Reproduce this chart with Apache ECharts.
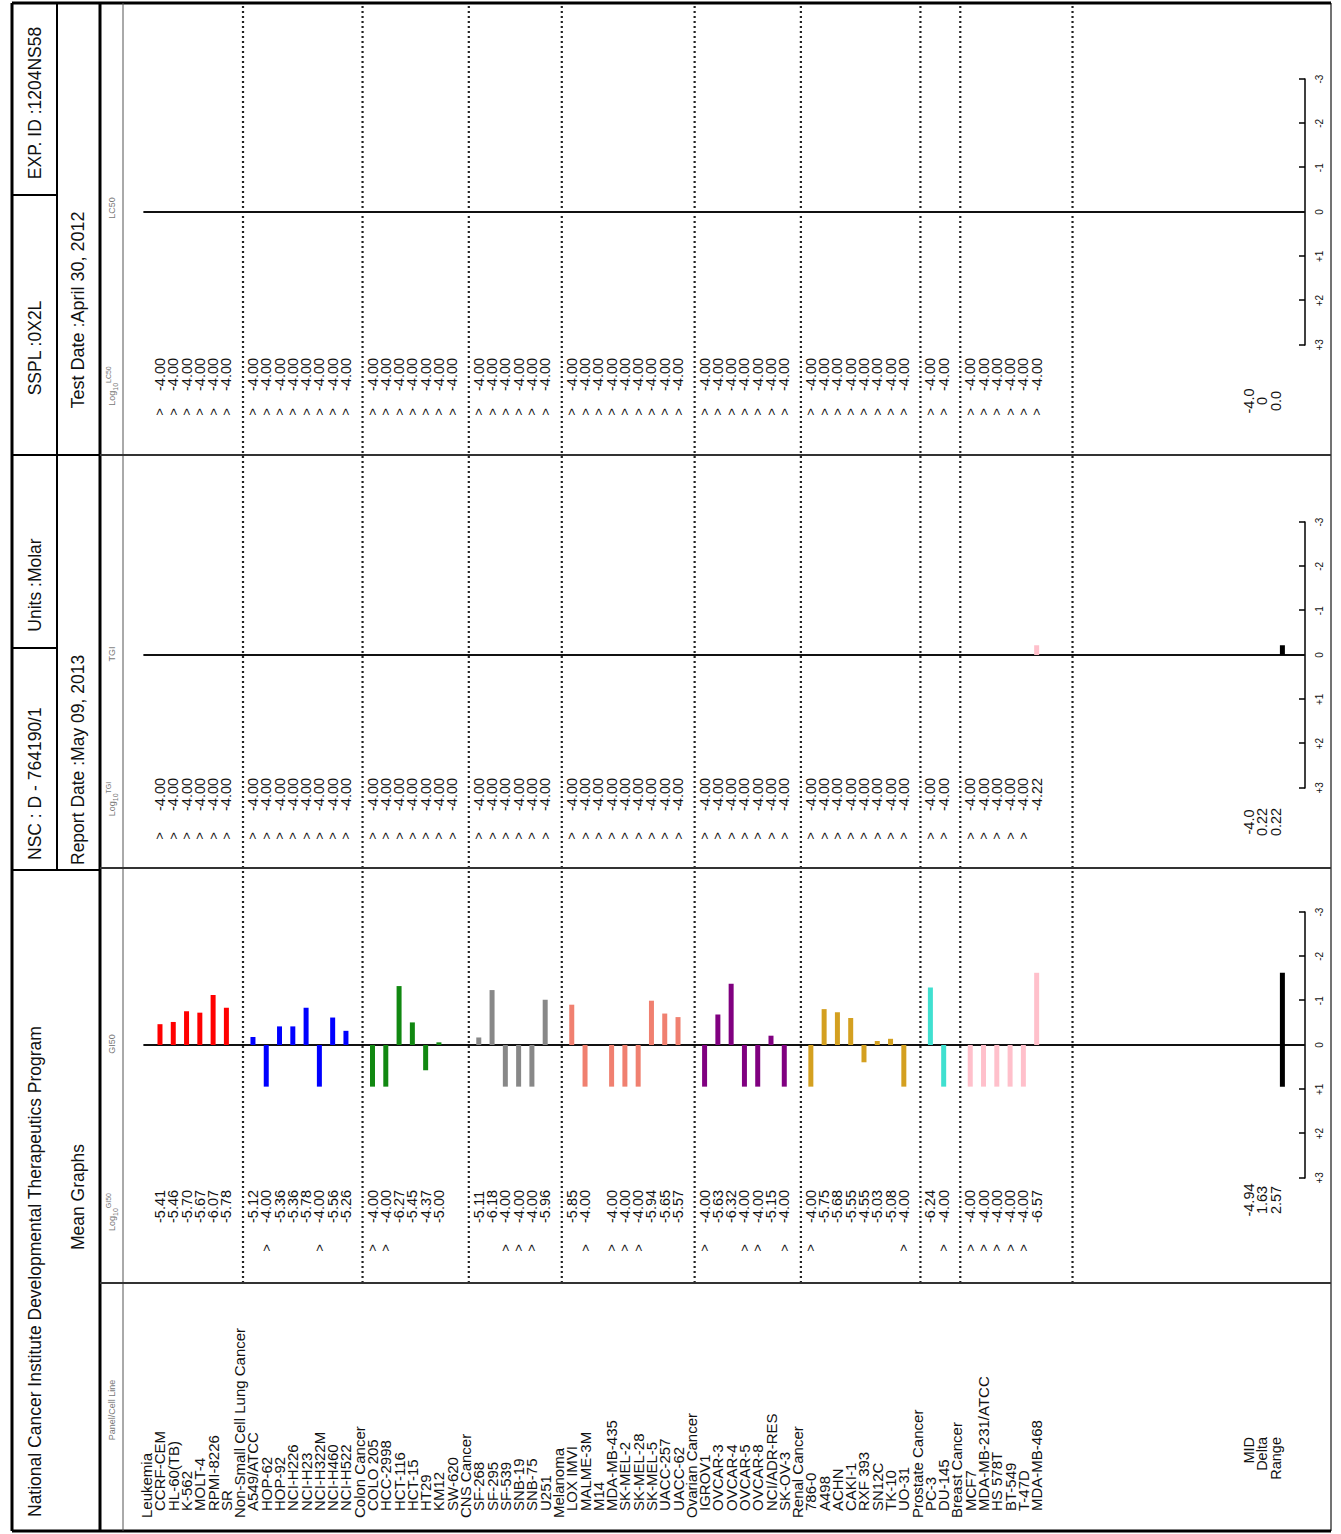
<!DOCTYPE html>
<html>
<head>
<meta charset="utf-8">
<script src="https://cdn.jsdelivr.net/npm/echarts@6/dist/echarts.min.js"></script>
<style>
  html, body { margin: 0; padding: 0; background: #fff; overflow: hidden; }
  #wrap { position: absolute; left: 0; top: 0; width: 1341px; height: 1534px; overflow: hidden; background: #fff; }
  /* the report is laid out in portrait and turned a quarter turn counter-clockwise */
  #chart { position: absolute; left: 0; top: 0; width: 1534px; height: 1341px;
           transform-origin: 0 0; transform: translate(0, 1534px) rotate(-90deg); }
</style>
</head>
<body>
<div id="wrap"><div id="chart"></div></div>
<script>
// ---------------- data ----------------
const PANELS = ['Leukemia', 'Non-Small Cell Lung Cancer', 'Colon Cancer', 'CNS Cancer', 'Melanoma',
  'Ovarian Cancer', 'Renal Cancer', 'Prostate Cancer', 'Breast Cancer'];
const PANEL_COLORS = ['#ff0000', '#0000ff', '#118811', '#888888', '#f08070', '#800080', '#d4a020', '#40e0d0', '#ffc0cb'];
const CELL_LINES = [
  ['CCRF-CEM', 'HL-60(TB)', 'K-562', 'MOLT-4', 'RPMI-8226', 'SR'],
  ['A549/ATCC', 'HOP-62', 'HOP-92', 'NCI-H226', 'NCI-H23', 'NCI-H322M', 'NCI-H460', 'NCI-H522'],
  ['COLO 205', 'HCC-2998', 'HCT-116', 'HCT-15', 'HT29', 'KM12', 'SW-620'],
  ['SF-268', 'SF-295', 'SF-539', 'SNB-19', 'SNB-75', 'U251'],
  ['LOX IMVI', 'MALME-3M', 'M14', 'MDA-MB-435', 'SK-MEL-2', 'SK-MEL-28', 'SK-MEL-5', 'UACC-257', 'UACC-62'],
  ['IGROV1', 'OVCAR-3', 'OVCAR-4', 'OVCAR-5', 'OVCAR-8', 'NCI/ADR-RES', 'SK-OV-3'],
  ['786-0', 'A498', 'ACHN', 'CAKI-1', 'RXF 393', 'SN12C', 'TK-10', 'UO-31'],
  ['PC-3', 'DU-145'],
  ['MCF7', 'MDA-MB-231/ATCC', 'HS 578T', 'BT-549', 'T-47D', 'MDA-MB-468']
];
// log10 molar values, one per cell line in the order above (null = not reported)
const GI50 = [
  -5.41, -5.46, -5.70, -5.67, -6.07, -5.78,
  -5.12, -4.00, -5.36, -5.36, -5.78, -4.00, -5.56, -5.26,
  -4.00, -4.00, -6.27, -5.45, -4.37, -5.00, null,
  -5.11, -6.18, -4.00, -4.00, -4.00, -5.96,
  -5.85, -4.00, null, -4.00, -4.00, -4.00, -5.94, -5.65, -5.57,
  -4.00, -5.63, -6.32, -4.00, -4.00, -5.15, -4.00,
  -4.00, -5.75, -5.68, -5.55, -4.55, -5.03, -5.08, -4.00,
  -6.24, -4.00,
  -4.00, -4.00, -4.00, -4.00, -4.00, -6.57
];
const TGI = [
  -4.00, -4.00, -4.00, -4.00, -4.00, -4.00,
  -4.00, -4.00, -4.00, -4.00, -4.00, -4.00, -4.00, -4.00,
  -4.00, -4.00, -4.00, -4.00, -4.00, -4.00, -4.00,
  -4.00, -4.00, -4.00, -4.00, -4.00, -4.00,
  -4.00, -4.00, -4.00, -4.00, -4.00, -4.00, -4.00, -4.00, -4.00,
  -4.00, -4.00, -4.00, -4.00, -4.00, -4.00, -4.00,
  -4.00, -4.00, -4.00, -4.00, -4.00, -4.00, -4.00, -4.00,
  -4.00, -4.00,
  -4.00, -4.00, -4.00, -4.00, -4.00, -4.22
];
const LC50 = [
  -4.00, -4.00, -4.00, -4.00, -4.00, -4.00,
  -4.00, -4.00, -4.00, -4.00, -4.00, -4.00, -4.00, -4.00,
  -4.00, -4.00, -4.00, -4.00, -4.00, -4.00, -4.00,
  -4.00, -4.00, -4.00, -4.00, -4.00, -4.00,
  -4.00, -4.00, -4.00, -4.00, -4.00, -4.00, -4.00, -4.00, -4.00,
  -4.00, -4.00, -4.00, -4.00, -4.00, -4.00, -4.00,
  -4.00, -4.00, -4.00, -4.00, -4.00, -4.00, -4.00, -4.00,
  -4.00, -4.00,
  -4.00, -4.00, -4.00, -4.00, -4.00, -4.00
];
// highest tested concentration: values at this ceiling are reported as ">"
const TOP_LOG_CONC = -4.00;
const SUMMARY_LABELS = ['MID', 'Delta', 'Range'];
const GI50_SUMMARY = ['-4.94', '1.63', '2.57'];
const TGI_SUMMARY = ['-4.0', '0.22', '0.22'];
const LC50_SUMMARY = ['-4.0', '0', '0.0'];
const SCALE_TICKS = [-3, -2, -1, 0, 1, 2, 3];
const COLUMN_HEADS = [
  { pre: 'Panel/Cell Line', u: 124 },
  { pre: 'Log', sub: '10', sup: 'GI50', u: 322 },
  { pre: 'GI50', u: 490 },
  { pre: 'Log', sub: '10', sup: 'TGI', u: 735 },
  { pre: 'TGI', u: 880 },
  { pre: 'Log', sub: '10', sup: 'LC50', u: 1148 },
  { pre: 'LC50', u: 1326 }
];

// ---------------- layout (portrait page, px) ----------------
const W = 1534, H = 1341;
const FONT = "'Liberation Sans', Arial, Helvetica, sans-serif";
const ROW0 = 146.7, PITCH = 13.283;          // centre of the first row, row pitch
const PLOT_TOP = 123, AXIS_V = 1305;          // top of plotting strip, scale axis line
const UNIT = 44.3;                            // px per log unit
const ZERO_U = [489, 879, 1322];              // zero line of GI50 / TGI / LC50
const QUAL_U = [286, 698, 1122];              // ">" column
const VALUE_U = [311, 723, 1143];             // value column (left edge)
const SUMMARY_U = [334, 712, 1133];           // MID/Delta/Range column (centre)
const PANEL_EDGES = [251, 666, 1079];
const BAR_W = 5;
const LABEL_PX = 15, VALUE_PX = 14.5;
const yMin = (PLOT_TOP - ROW0) / PITCH;
const yMax = (AXIS_V - ROW0) / PITCH;

// rows: a panel heading followed by its cell lines
const labelRows = [], cellRows = [], cellColor = [], headingRows = [];
let r = 0;
PANELS.forEach((p, pi) => {
  labelRows.push({ name: p, row: r, heading: true });
  headingRows.push(r); r++;
  CELL_LINES[pi].forEach(c => {
    labelRows.push({ name: c, row: r, heading: false });
    cellRows.push(r); cellColor.push(PANEL_COLORS[pi]); r++;
  });
});
const LAST_ROW = r - 1;
const SEP_ROWS = headingRows.slice(1).map(h => h + 0.25).concat([LAST_ROW + 2.7]);
const SUMMARY_ROW = LAST_ROW + 16;
const SUMMARY_BAR_ROW = LAST_ROW + 18.5;
const ZERO_FROM_ROW = -0.25;

// ---------------- series builders ----------------
const txt = (size) => `${size}px ${FONT}`;

function labelSeries() {
  const items = labelRows.concat(SUMMARY_LABELS.map((s, i) => ({ name: s, row: SUMMARY_ROW + i, summary: true })));
  return {
    type: 'custom', xAxisIndex: 0, yAxisIndex: 0, silent: true, animation: false,
    data: items.map(o => [0, o.row]),
    renderItem: (params, api) => {
      const o = items[params.dataIndex];
      const p = api.coord([0, api.value(1)]);
      let x = p[0] + (o.heading ? 13 : 20), align = 'left', size = LABEL_PX;
      if (o.summary) { x = p[0] + 94; align = 'right'; size = VALUE_PX; }
      return { type: 'text', x, y: p[1],
        style: { text: o.name, font: txt(size), fill: '#111', align, verticalAlign: 'middle' } };
    }
  };
}

function valueTextSeries(k, values, summary) {
  const items = [];
  values.forEach((v, i) => { if (v !== null) items.push({ row: cellRows[i], v }); });
  summary.forEach((s, i) => items.push({ row: SUMMARY_ROW + i, s }));
  return {
    type: 'custom', xAxisIndex: k + 1, yAxisIndex: k + 1, silent: true, animation: false,
    data: items.map(o => [0, o.row]),
    renderItem: (params, api) => {
      const o = items[params.dataIndex];
      const y = api.coord([0, api.value(1)])[1];
      if (o.s !== undefined) {
        return { type: 'text', x: SUMMARY_U[k], y,
          style: { text: o.s, font: txt(VALUE_PX), fill: '#111', align: 'center', verticalAlign: 'middle' } };
      }
      const children = [{ type: 'text', x: VALUE_U[k], y,
        style: { text: o.v.toFixed(2), font: txt(VALUE_PX), fill: '#111', align: 'left', verticalAlign: 'middle' } }];
      if (o.v === TOP_LOG_CONC) {
        children.push({ type: 'text', x: QUAL_U[k], y,
          style: { text: '>', font: txt(13), fill: '#111', align: 'center', verticalAlign: 'middle' } });
      }
      return { type: 'group', children };
    }
  };
}

function barSeries(k, values, summary) {
  const mid = parseFloat(summary[0]);
  const items = [];
  values.forEach((v, i) => { if (v !== null) items.push({ row: cellRows[i], d: v - mid, color: cellColor[i] }); });
  return {
    type: 'custom', xAxisIndex: k + 1, yAxisIndex: k + 1, silent: true, animation: false, z: 3,
    data: items.map(o => [o.d, o.row]),
    renderItem: (params, api) => {
      const o = items[params.dataIndex];
      const p0 = api.coord([0, api.value(1)]);
      const p1 = api.coord([api.value(0), api.value(1)]);
      const w = Math.abs(p1[0] - p0[0]);
      if (w < 0.5) return null;
      return { type: 'rect',
        shape: { x: Math.min(p0[0], p1[0]), y: p0[1] - BAR_W / 2, width: w, height: BAR_W },
        style: { fill: o.color } };
    }
  };
}

function summaryBarSeries(k, summary) {
  const delta = parseFloat(summary[1]), range = parseFloat(summary[2]);
  return {
    type: 'custom', xAxisIndex: k + 1, yAxisIndex: k + 1, silent: true, animation: false, z: 4,
    data: [[-delta, range - delta, SUMMARY_BAR_ROW]],
    renderItem: (params, api) => {
      const p0 = api.coord([api.value(0), api.value(2)]);
      const p1 = api.coord([api.value(1), api.value(2)]);
      const w = Math.abs(p1[0] - p0[0]);
      if (w < 0.5) return null;
      return { type: 'rect',
        shape: { x: Math.min(p0[0], p1[0]), y: p0[1] - BAR_W / 2, width: w, height: BAR_W },
        style: { fill: '#000' } };
    }
  };
}

function zeroLineSeries(k) {
  return {
    type: 'line', xAxisIndex: k + 1, yAxisIndex: k + 1, silent: true, animation: false, z: 2,
    symbol: 'none', data: [[0, ZERO_FROM_ROW], [0, yMax]],
    lineStyle: { color: '#111', width: 2 }
  };
}

function separatorSeries() {
  return {
    type: 'custom', xAxisIndex: 4, yAxisIndex: 4, silent: true, animation: false, z: 1,
    data: SEP_ROWS.map(s => [0, s]),
    renderItem: (params, api) => {
      const a = api.coord([0, api.value(1)]);
      const b = api.coord([1, api.value(1)]);
      return { type: 'line', shape: { x1: a[0], y1: a[1], x2: b[0], y2: b[1] },
        style: { stroke: '#222', lineWidth: 2.2, lineDash: [2, 3] } };
    }
  };
}

// ---------------- grids and axes ----------------
const gridBox = (left, width) => ({ left, width, top: PLOT_TOP, height: AXIS_V - PLOT_TOP });
const grids = [
  gridBox(3, 248),
  gridBox(ZERO_U[0] - 3 * UNIT, 6 * UNIT),
  gridBox(ZERO_U[1] - 3 * UNIT, 6 * UNIT),
  gridBox(ZERO_U[2] - 3 * UNIT, 6 * UNIT),
  gridBox(PANEL_EDGES[0], 1531 - PANEL_EDGES[0])
];
const hiddenX = (g) => ({ gridIndex: g, type: 'value', min: 0, max: 1, show: false });
const scaleX = (g) => ({
  gridIndex: g, type: 'value', min: SCALE_TICKS[0], max: SCALE_TICKS[SCALE_TICKS.length - 1],
  interval: 1, inverse: true, position: 'bottom',
  axisLine: { show: true, onZero: false, lineStyle: { color: '#000', width: 1.5 } },
  axisTick: { show: true, inside: true, length: 6, lineStyle: { color: '#000', width: 1.5 } },
  axisLabel: { show: true, margin: 9, fontSize: 10, fontFamily: FONT, color: '#111',
    formatter: v => (v > 0 ? '+' + v : String(v)) },
  splitLine: { show: false }
});
const rowY = (g) => ({ gridIndex: g, type: 'value', min: yMin, max: yMax, inverse: true, show: false });

// ---------------- frame and header ----------------
const G = [];
const ln = (x1, y1, x2, y2, w, c) => G.push({ type: 'line', z: 100, silent: true,
  shape: { x1, y1, x2, y2 }, style: { stroke: c || '#000', lineWidth: w } });
const tx = (text, x, y, size, align, color) => G.push({ type: 'text', z: 101, silent: true, x, y,
  style: { text, font: txt(size), fill: color || '#111', align: align || 'left', verticalAlign: 'middle' } });

// outer border
ln(3, 12, 1531, 12, 3); ln(3, 1331, 1531, 1331, 1.5, '#444');
ln(3, 12, 3, 1331, 3); ln(1531, 12, 1531, 1331, 3);
// header rows
ln(3, 100, 1531, 100, 3);
ln(3, 123, 1531, 123, 1, '#555');
ln(664, 57, 1531, 57, 2);
ln(664, 12, 664, 100, 2);
ln(886, 12, 886, 57, 2);
ln(1079, 12, 1079, 57, 2);
ln(1339, 12, 1339, 57, 2);
ln(1079, 57, 1079, 100, 2);
// panel borders
PANEL_EDGES.forEach(u => ln(u, 100, u, 1331, 2, '#333'));

tx('National Cancer Institute Developmental Therapeutics Program', 17, 35, 17.5);
tx('Mean Graphs', 337, 78, 17.5, 'center');
tx('NSC : D - 764190/1', 674, 35, 17.5);
tx('Units :Molar', 949, 35, 17.5, 'center');
tx('SSPL :0X2L', 1186, 35, 17.5, 'center');
tx('EXP. ID :1204NS58', 1431, 35, 17.5, 'center');
tx('Report Date :May 09, 2013', 669, 78, 17.5);
tx('Test Date :April 30, 2012', 1224, 78, 18, 'center');

COLUMN_HEADS.forEach(h => {
  const text = h.sub ? `{a|${h.pre}}{b|${h.sub}}{c|${h.sup}}` : `{a|${h.pre}}`;
  G.push({ type: 'text', z: 101, silent: true, x: h.u, y: 111.5,
    style: { text, align: 'center', verticalAlign: 'middle', fill: '#777',
      rich: {
        a: { fontSize: 9, fontFamily: FONT, fill: '#777', lineHeight: 14, verticalAlign: 'middle' },
        b: { fontSize: 7, fontFamily: FONT, fill: '#777', lineHeight: 14, verticalAlign: 'bottom' },
        c: { fontSize: 7, fontFamily: FONT, fill: '#777', lineHeight: 14, verticalAlign: 'top' }
      } } });
});

// ---------------- chart ----------------
const SETS = [[GI50, GI50_SUMMARY], [TGI, TGI_SUMMARY], [LC50, LC50_SUMMARY]];
const series = [labelSeries(), separatorSeries()];
SETS.forEach(([vals, summ], k) => {
  series.push(zeroLineSeries(k), barSeries(k, vals, summ), summaryBarSeries(k, summ), valueTextSeries(k, vals, summ));
});

const chart = echarts.init(document.getElementById('chart'), null, { renderer: 'svg', width: W, height: H });
chart.setOption({
  animation: false,
  backgroundColor: '#fff',
  grid: grids,
  xAxis: [hiddenX(0), scaleX(1), scaleX(2), scaleX(3), hiddenX(4)],
  yAxis: [rowY(0), rowY(1), rowY(2), rowY(3), rowY(4)],
  graphic: { elements: G },
  series
});
</script>
</body>
</html>
